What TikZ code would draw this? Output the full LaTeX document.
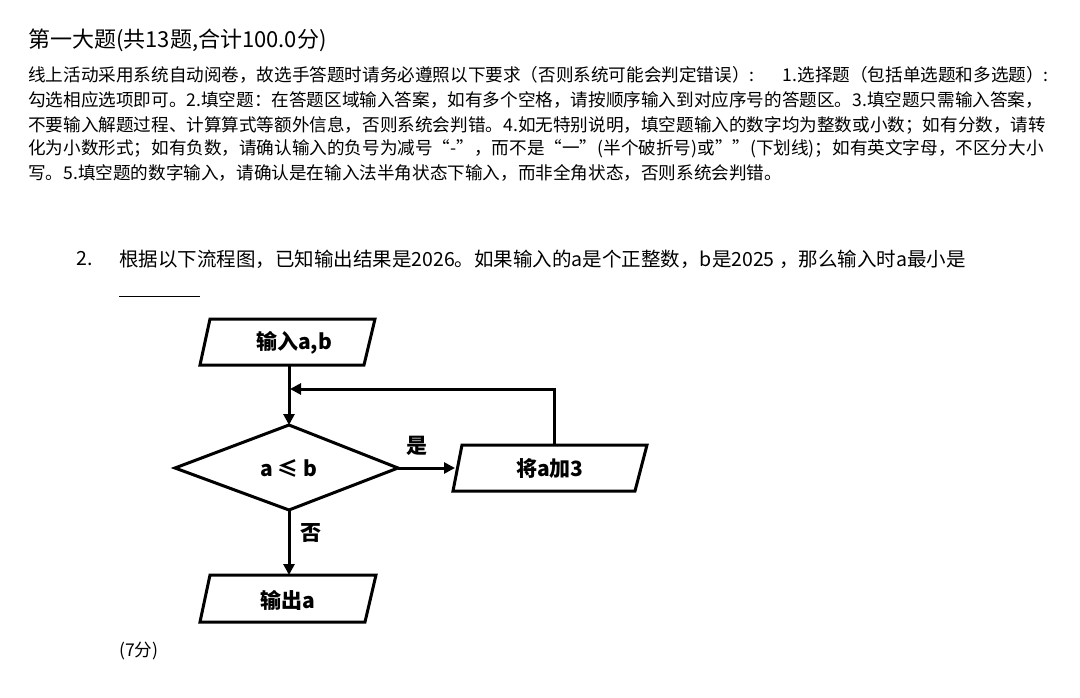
\documentclass[tikz,border=0pt]{standalone}
\usepackage{fontspec}
\setmainfont{Noto Sans CJK SC}
\usetikzlibrary{arrows.meta}
\begin{document}
\begin{tikzpicture}[x=1pt,y=-1pt,
  box/.style={line width=3pt,line join=miter},
  arr/.style={line width=3pt,-{Triangle[length=11pt,width=11pt]}},
  txt/.style={anchor=west,inner sep=0pt,font=\fontsize{17.6}{19}\selectfont},
  lab/.style={inner sep=0pt,font=\bfseries\fontsize{21}{22}\selectfont}]
\useasboundingbox (0,0) rectangle (1080,698);
\fill[white] (0,0) rectangle (1080,698);
\node[txt,font=\fontsize{22}{24}\selectfont] (title) at (28,40) {第一大题(共13题,合计100.0分)};
\node[txt] (l1) at (28,75) {线上活动采用系统自动阅卷，故选手答题时请务必遵照以下要求（否则系统可能会判定错误）:\hspace{1.6em}1.选择题（包括单选题和多选题）:};
\node[txt] (l2) at (28,100) {勾选相应选项即可。2.填空题：在答题区域输入答案，如有多个空格，请按顺序输入到对应序号的答题区。3.填空题只需输入答案，};
\node[txt] (l3) at (28,125) {不要输入解题过程、计算算式等额外信息，否则系统会判错。4.如无特别说明，填空题输入的数字均为整数或小数；如有分数，请转};
\node[txt] (l4) at (28,149) {化为小数形式；如有负数，请确认输入的负号为减号“-”，而不是“一”(半个破折号)或""(下划线)；如有英文字母，不区分大小};
\node[txt] (l5) at (28,173) {写。5.填空题的数字输入，请确认是在输入法半角状态下输入，而非全角状态，否则系统会判错。};
\node[txt,font=\fontsize{19.5}{21}\selectfont] (qn) at (76,259) {2.};
\node[txt,font=\fontsize{19.5}{21}\selectfont] (q) at (119,259) {根据以下流程图，已知输出结果是2026。如果输入的a是个正整数，b是2025 ，那么输入时a最小是};
\coordinate (u1) at (119,296); \coordinate (u2) at (200,296);
\draw[line width=1pt] (u1) -- (u2);
\node[txt] (pts) at (119,651) {(7分)};
% flowchart
\draw[box] (210,319) -- (375,319) -- (364,365) -- (200,365) -- cycle;
\node[lab] (in) at (294,343) {输入a,b};
\draw[box] (289,425) -- (398,468) -- (289,510) -- (175,468) -- cycle;
\node[lab] (cond) at (289,468) {a ≤ b};
\draw[box] (462,445) -- (647,445) -- (635,491) -- (453,491) -- cycle;
\node[lab] (add) at (550,469) {将a加3};
\draw[box] (210,575) -- (376,575) -- (365,622) -- (200,622) -- cycle;
\node[lab] (out) at (288,600) {输出a};
\coordinate (inb) at (289,366);
\coordinate (dtop) at (289,425);
\coordinate (dr) at (398,468);
\coordinate (al) at (455,468);
\coordinate (db) at (289,510);
\coordinate (ot) at (289,575);
\coordinate (at) at (554,444);
\coordinate (c1) at (554,389);
\coordinate (c2) at (290,389);
\draw[arr] (inb) -- (dtop);
\draw[arr] (at) -- (c1) -- (c2);
\draw[arr] (dr) -- (al);
\draw[arr] (db) -- (ot);
\node[lab] (yes) at (417,446) {是};
\node[lab] (no) at (311,533) {否};
\end{tikzpicture}
\end{document}
